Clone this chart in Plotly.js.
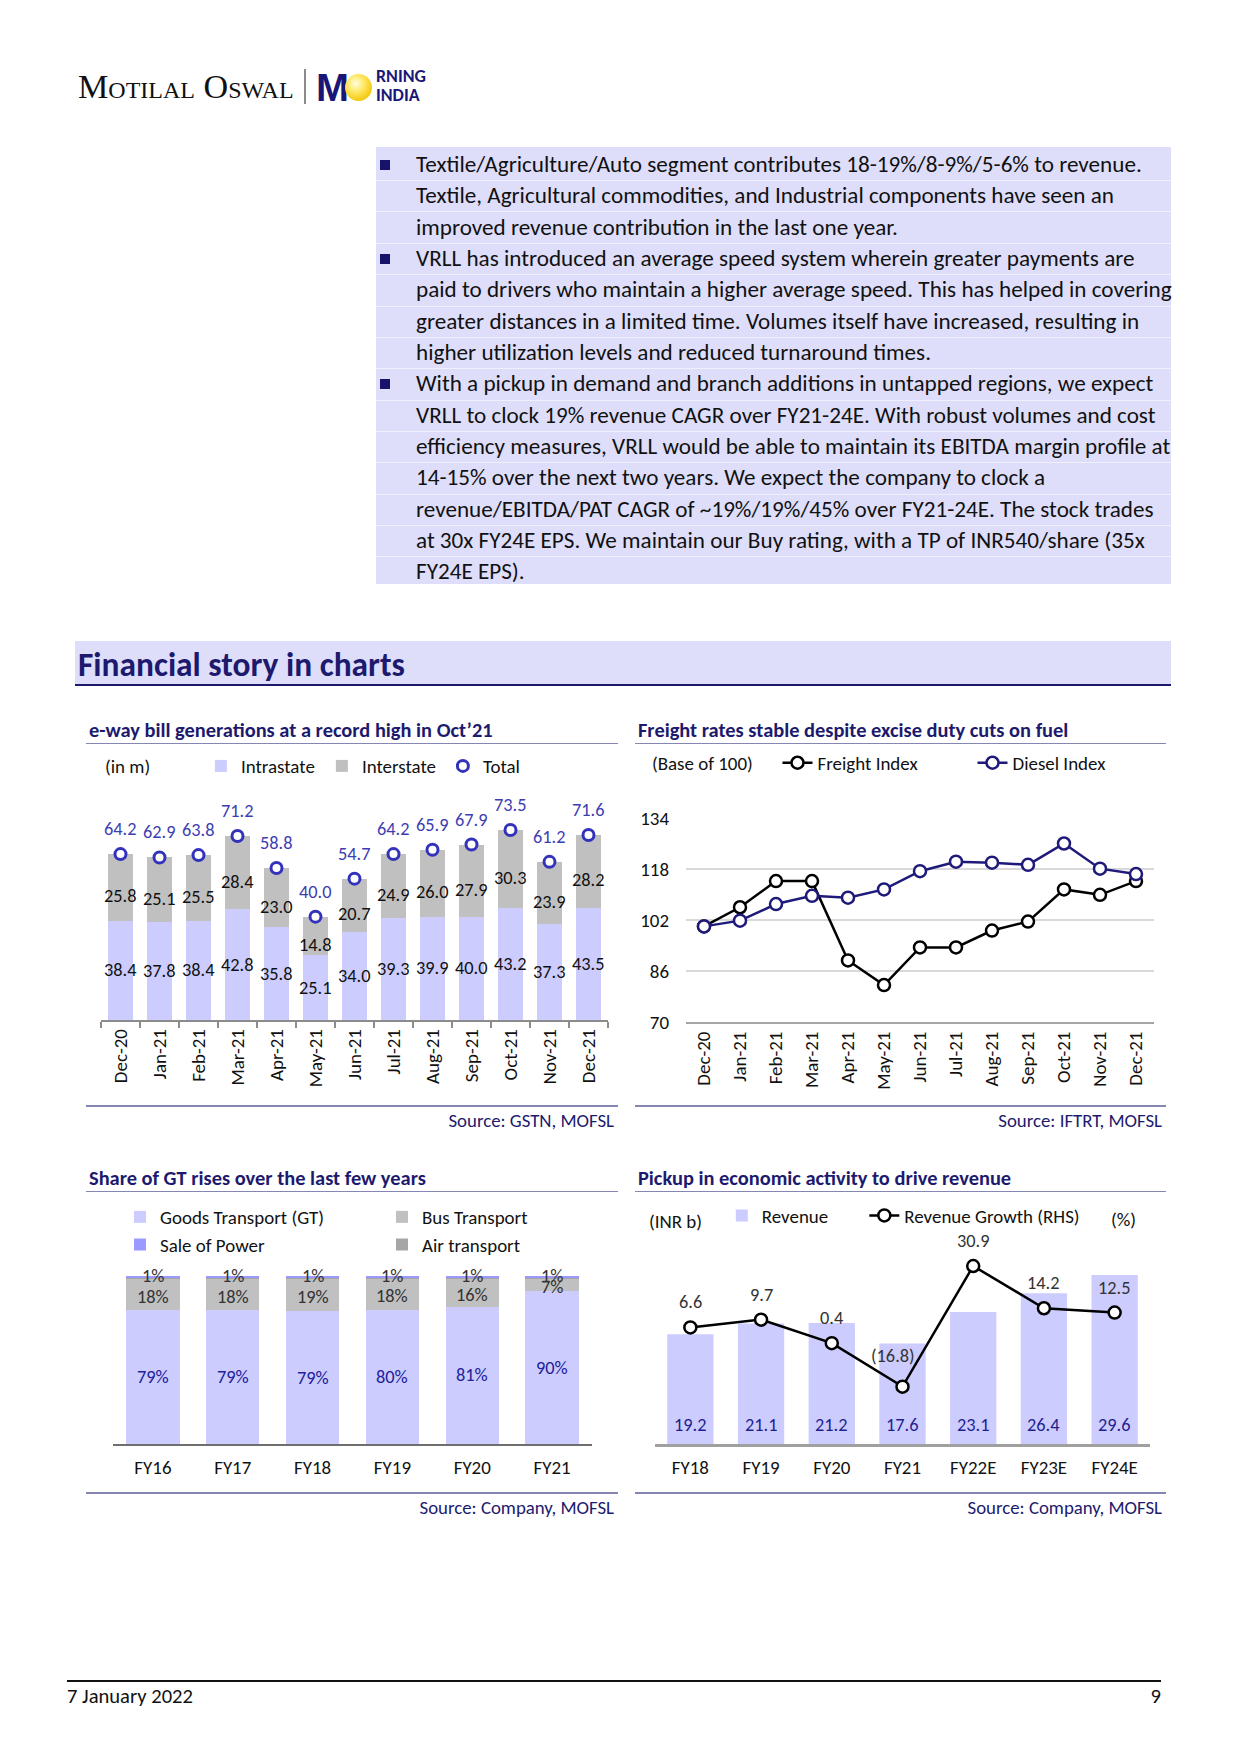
<!DOCTYPE html>
<html><head><meta charset="utf-8">
<script src="https://cdn.plot.ly/plotly-3.0.1.min.js"></script>
<style>
html,body{margin:0;padding:0;background:#fff;}
#page{position:relative;width:1241px;height:1755px;overflow:hidden;background:#fff;}
.t{position:absolute;white-space:nowrap;line-height:1;}
.plot{position:absolute;}
</style></head><body><div id="page"></div>
<script>
// ---------------- DATA ----------------
const ewayMonths = ['Dec-20','Jan-21','Feb-21','Mar-21','Apr-21','May-21','Jun-21','Jul-21','Aug-21','Sep-21','Oct-21','Nov-21','Dec-21'];
const ewayIntra = [38.4,37.8,38.4,42.8,35.8,25.1,34.0,39.3,39.9,40.0,43.2,37.3,43.5];
const ewayInter = [25.8,25.1,25.5,28.4,23.0,14.8,20.7,24.9,26.0,27.9,30.3,23.9,28.2];
const ewayTotal = [64.2,62.9,63.8,71.2,58.8,40.0,54.7,64.2,65.9,67.9,73.5,61.2,71.6];

const freightMonths = ['Dec-20','Jan-21','Feb-21','Mar-21','Apr-21','May-21','Jun-21','Jul-21','Aug-21','Sep-21','Oct-21','Nov-21','Dec-21'];
const freightIndex = [100.0,106.0,114.2,114.2,89.3,81.6,93.4,93.4,98.7,101.5,111.6,109.9,114.2];
const dieselIndex = [100.0,101.8,107.0,109.6,109.0,111.6,117.3,120.3,120.0,119.3,126.0,118.1,116.4];
const freightTicks = [70,86,102,118,134];

const shareYears = ['FY16','FY17','FY18','FY19','FY20','FY21'];
const shareGT = [79,79,79,80,81,90];
const shareBus = [18,18,19,18,16,7];
const shareAir = [1,1,1,1,1,1];
const sharePower = [1,1,1,1,1,1];

const revYears = ['FY18','FY19','FY20','FY21','FY22E','FY23E','FY24E'];
const revenue = [19.2,21.1,21.2,17.6,23.1,26.4,29.6];
const revGrowth = [6.6,9.7,0.4,-16.8,30.9,14.2,12.5];

const bodyLines = [
 [true,'Textile/Agriculture/Auto segment contributes 18-19%/8-9%/5-6% to revenue.'],
 [false,'Textile, Agricultural commodities, and Industrial components have seen an'],
 [false,'improved revenue contribution in the last one year.'],
 [true,'VRLL has introduced an average speed system wherein greater payments are'],
 [false,'paid to drivers who maintain a higher average speed. This has helped in covering'],
 [false,'greater distances in a limited time. Volumes itself have increased, resulting in'],
 [false,'higher utilization levels and reduced turnaround times.'],
 [true,'With a pickup in demand and branch additions in untapped regions, we expect'],
 [false,'VRLL to clock 19% revenue CAGR over FY21-24E. With robust volumes and cost'],
 [false,'efficiency measures, VRLL would be able to maintain its EBITDA margin profile at'],
 [false,'14-15% over the next two years. We expect the company to clock a'],
 [false,'revenue/EBITDA/PAT CAGR of ~19%/19%/45% over FY21-24E. The stock trades'],
 [false,'at 30x FY24E EPS. We maintain our Buy rating, with a TP of INR540/share (35x'],
 [false,'FY24E EPS).']
];

// ---------------- STYLE HELPERS ----------------
const FAM = "Carlito, Calibri, Lato, 'Open Sans', sans-serif";
const NAVY = '#1d1a6e';
const RULE = '#8686b2';
const LAV = '#ccccff';
const page = document.getElementById('page');
const cv = document.createElement('canvas').getContext('2d');
function fit(text, target, family, weight, variant){
  cv.font = (variant||'normal') + ' ' + (weight||'normal') + ' 100px ' + family;
  return 100*target/cv.measureText(text).width;
}
function txt(s, o){
  const d = document.createElement('div');
  d.className = 't';
  d.textContent = s;
  d.style.fontFamily = o.family || FAM;
  d.style.fontSize = o.size + 'px';
  d.style.fontWeight = o.weight || 'normal';
  if (o.variant) d.style.fontVariant = o.variant;
  d.style.color = o.color || '#000';
  d.style.top = (o.y - o.size*0.5) + 'px';
  if (o.right !== undefined){ d.style.right = (1241 - o.right) + 'px'; }
  else d.style.left = o.x + 'px';
  page.appendChild(d);
  return d;
}
function box(x,y,w,h,bg,extra){
  const d = document.createElement('div');
  d.style.position='absolute'; d.style.left=x+'px'; d.style.top=y+'px';
  d.style.width=w+'px'; d.style.height=h+'px'; d.style.background=bg;
  if (extra) Object.assign(d.style, extra);
  page.appendChild(d); return d;
}

// ---------------- LOGO ----------------
const SERIF = "'Liberation Serif', 'DejaVu Serif', serif";
txt('Motilal Oswal', {x:78, y:87, size:fit('Motilal Oswal',215,SERIF,'normal','small-caps'), family:SERIF, variant:'small-caps', color:'#111'});
box(304,69,2,35,'#8a8a8a');
const SANSB = "'Liberation Sans', Arial, sans-serif";
txt('M', {x:316, y:88, size:fit('M',33,SANSB,'bold'), family:SANSB, weight:'bold', color:'#1a1678'});
box(345,74,27,27,'radial-gradient(circle at 40% 35%, #fffde0 0%, #ffe866 35%, #f2c200 80%, #e0a800 100%)',{borderRadius:'50%'});
const rs = fit('RNING',50,FAM,'bold');
txt('RNING', {x:376, y:77, size:rs, weight:'bold', color:'#1a1678'});
txt('INDIA', {x:376, y:95.5, size:rs, weight:'bold', color:'#1a1678'});

// ---------------- BODY TEXT BOX ----------------
box(376,147,795,437,'#dedefa');
const bodySize = fit(bodyLines[0][1], 726, FAM);
bodyLines.forEach((l,i)=>{
  const cy = 164.5 + i*31.34;
  if (i>0) box(376, cy-15.7, 795, 1, 'rgba(255,255,255,0.55)');
  if (l[0]) box(380, cy-5, 10, 10, '#17136a');
  txt(l[1], {x:416, y:cy, size:bodySize, color:'#111'});
});

// ---------------- SECTION HEADER ----------------
box(75,641,1096,43,'#dedefa');
box(75,684,1096,2,NAVY);
txt('Financial story in charts', {x:78, y:665, size:fit('Financial story in charts',327,FAM,'bold'), weight:'bold', color:NAVY});

// ---------------- CHART FRAMES ----------------
const titleSize = fit('e-way bill generations at a record high in Oct’21', 404, FAM, 'bold');
const srcSize = fit('Source: GSTN, MOFSL', 165.6, FAM);
function frame(x0, x1, titleY, bottomY, title, source){
  txt(title, {x:x0+3, y:titleY, size:titleSize, weight:'bold', color:NAVY});
  box(x0, titleY+12.5, x1-x0, 1.5, RULE);
  box(x0, bottomY, x1-x0, 1.5, RULE);
  txt(source, {right:x1-4, y:bottomY+16.5, size:srcSize, color:NAVY});
}
frame(86,618,730,1105,'e-way bill generations at a record high in Oct’21','Source: GSTN, MOFSL');
frame(635,1166,730,1105,'Freight rates stable despite excise duty cuts on fuel','Source: IFTRT, MOFSL');
frame(86,618,1178,1492,'Share of GT rises over the last few years','Source: Company, MOFSL');
frame(635,1166,1178,1492,'Pickup in economic activity to drive revenue','Source: Company, MOFSL');

// ---------------- FOOTER ----------------
box(67,1680,1094,1.5,'#111');
const fs = fit('7 January 2022',126,FAM);
txt('7 January 2022', {x:67, y:1696, size:fs, color:'#111'});
txt('9', {right:1161, y:1696, size:fs, color:'#111'});

// ---------------- PLOTS ----------------
const FL = fit('Intrastate', 74, FAM);
const FN = fit('38.4', 32.5, FAM);
const cfg = {staticPlot:true, displayModeBar:false, responsive:false};
function mkDiv(x,y,w,h){
  const d=document.createElement('div'); d.className='plot';
  d.style.left=x+'px'; d.style.top=y+'px'; d.style.width=w+'px'; d.style.height=h+'px';
  page.appendChild(d); return d;
}

// unit texts
txt('(in m)', {x:105, y:767, size:FL, color:'#111'});
txt('(Base of 100)', {x:652, y:764, size:FL, color:'#111'});
txt('(INR b)', {x:649, y:1222, size:FL, color:'#111'});
txt('(%)', {x:1111, y:1220, size:FL, color:'#111'});

// Chart 1: e-way bills
(function(){
  const d = mkDiv(86,750,532,355);
  const ann = [];
  ewayMonths.forEach((m,i)=>{
    ann.push({x:m, y:ewayIntra[i]/2, text:ewayIntra[i].toFixed(1), showarrow:false, font:{size:FN,color:'#111'}});
    ann.push({x:m, y:ewayIntra[i]+ewayInter[i]/2, yshift:-9, text:ewayInter[i].toFixed(1), showarrow:false, font:{size:FN,color:'#111'}});
    ann.push({x:m, y:ewayTotal[i], yshift:25, text:ewayTotal[i].toFixed(1), showarrow:false, font:{size:FN,color:'#3d3db2'}});
  });
  Plotly.newPlot(d, [
    {type:'bar', name:'Intrastate', x:ewayMonths, y:ewayIntra, marker:{color:LAV}},
    {type:'bar', name:'Interstate', x:ewayMonths, y:ewayInter, marker:{color:'#c0c0c0'}},
    {type:'scatter', mode:'markers', name:'Total', x:ewayMonths, y:ewayTotal, cliponaxis:false,
     marker:{symbol:'circle', size:11, color:'#fff', line:{color:'#3232bb', width:3}}}
  ], {
    width:532, height:355, margin:{l:14.7, r:10.2, t:40, b:85.3, pad:0, autoexpand:false},
    paper_bgcolor:'rgba(0,0,0,0)', plot_bgcolor:'rgba(0,0,0,0)',
    font:{family:FAM, size:FL, color:'#111'},
    barmode:'stack', bargap:0.34,
    xaxis:{type:'category', range:[-0.5,12.5], tickangle:-90, showline:true, linecolor:'#8c8c8c', linewidth:1.5,
           ticks:'outside', tickson:'boundaries', ticklen:6, tickcolor:'#8c8c8c', tickwidth:1.5,
           tickfont:{size:FL, color:'#111'}, showgrid:false, zeroline:false, automargin:false, fixedrange:true},
    yaxis:{range:[0,89], visible:false, fixedrange:true},
    showlegend:true,
    legend:{orientation:'h', x:0.197, xanchor:'left', y:1.104, yanchor:'middle', entrywidth:76, entrywidthmode:'pixels',
            font:{size:FL, color:'#111'}, bgcolor:'rgba(0,0,0,0)', traceorder:'normal'},
    annotations:ann
  }, cfg);
})();

// Chart 2: freight vs diesel
(function(){
  const d = mkDiv(635,750,531,355);
  Plotly.newPlot(d, [
    {type:'scatter', mode:'lines+markers', name:'Freight Index', x:freightMonths, y:freightIndex, cliponaxis:false,
     line:{color:'#000', width:2.5}, marker:{size:12, color:'#fff', line:{color:'#000', width:2.5}}},
    {type:'scatter', mode:'lines+markers', name:'Diesel Index', x:freightMonths, y:dieselIndex, cliponaxis:false, legendwidth:150,
     line:{color:'#1f1a7a', width:2.5}, marker:{size:12, color:'#fff', line:{color:'#1f1a7a', width:2.5}}}
  ], {
    width:531, height:355, margin:{l:51, r:12, t:68, b:83, pad:0, autoexpand:false},
    paper_bgcolor:'rgba(0,0,0,0)', plot_bgcolor:'rgba(0,0,0,0)',
    font:{family:FAM, size:FL, color:'#111'},
    xaxis:{type:'category', range:[-0.5,12.5], tickangle:-90, showline:true, linecolor:'#a6a6a6', linewidth:2,
           ticks:'', ticklabelstandoff:0, tickfont:{size:FL, color:'#111'}, showgrid:false, zeroline:false, automargin:false},
    yaxis:{range:[70,134], tickvals:freightTicks, ticktext:freightTicks.map(String), showgrid:true, gridcolor:'#d9d9d9', gridwidth:1.5,
           zeroline:false, showline:false, ticks:'', ticklabelstandoff:16, tickfont:{size:FL, color:'#111'}, automargin:false},
    showlegend:true,
    legend:{orientation:'h', x:0.1955, xanchor:'left', y:1.27, yanchor:'middle', entrywidth:150, entrywidthmode:'pixels',
            font:{size:FL, color:'#111'}, bgcolor:'rgba(0,0,0,0)', traceorder:'normal'}
  }, cfg);
})();

// Chart 3: share of segments
(function(){
  const d = mkDiv(86,1195,532,300);
  const ann = [];
  shareYears.forEach((yr,i)=>{
    const tot = shareGT[i]+shareBus[i]+shareAir[i]+sharePower[i];
    const k = 100/tot;
    ann.push({x:yr, y:k*shareGT[i]/2, text:shareGT[i]+'%', showarrow:false, font:{size:FN,color:'#22229a'}});
    ann.push({x:yr, y:k*(shareGT[i]+shareBus[i]/2), yshift:-2, text:shareBus[i]+'%', showarrow:false, font:{size:FN,color:'#333'}});
    ann.push({x:yr, y:k*(shareGT[i]+shareBus[i]+shareAir[i]/2), yshift:3, text:shareAir[i]+'%', showarrow:false, font:{size:FN,color:'#333'}});
  });
  Plotly.newPlot(d, [
    {type:'bar', name:'Goods Transport (GT)', x:shareYears, y:shareGT, marker:{color:LAV}, legend:'legend'},
    {type:'bar', name:'Bus Transport', x:shareYears, y:shareBus, marker:{color:'#c0c0c0'}, legend:'legend2'},
    {type:'bar', name:'Air transport', x:shareYears, y:shareAir, marker:{color:'#a6a6a6'}, legend:'legend2'},
    {type:'bar', name:'Sale of Power', x:shareYears, y:sharePower, marker:{color:'#9999ff'}, legend:'legend'}
  ], {
    width:532, height:300, margin:{l:27, r:26, t:81, b:51, pad:0, autoexpand:false},
    paper_bgcolor:'rgba(0,0,0,0)', plot_bgcolor:'rgba(0,0,0,0)',
    font:{family:FAM, size:FL, color:'#111'},
    barmode:'stack', barnorm:'percent', bargap:0.33,
    xaxis:{type:'category', range:[-0.5,5.5], showline:true, linecolor:'#6e6e6e', linewidth:2, ticks:'', ticklabelstandoff:5,
           tickfont:{size:FL, color:'#111'}, showgrid:false, zeroline:false, automargin:false},
    yaxis:{range:[0,100], visible:false},
    showlegend:true,
    legend:{orientation:'v', x:0.0146, xanchor:'left', y:1.464, yanchor:'top', traceorder:'normal',
            font:{size:FL, color:'#111'}, bgcolor:'rgba(0,0,0,0)'},
    legend2:{orientation:'v', x:0.5616, xanchor:'left', y:1.464, yanchor:'top', traceorder:'normal',
            font:{size:FL, color:'#111'}, bgcolor:'rgba(0,0,0,0)'},
    annotations:ann
  }, cfg);
})();

// Chart 4: revenue and growth
(function(){
  const d = mkDiv(635,1195,531,300);
  const ann = [];
  revYears.forEach((yr,i)=>{
    ann.push({x:yr, y:0, yref:'y', yshift:19, text:revenue[i].toFixed(1), showarrow:false, font:{size:FN,color:'#1f1f8f'}});
    const g = revGrowth[i];
    const neg = g < 0;
    ann.push({x:yr, y:g, yref:'y2', yshift: neg ? 31 : 25, xshift: neg ? -10 : 0,
              text: neg ? '('+Math.abs(g).toFixed(1)+')' : g.toFixed(1), showarrow:false, font:{size:FN,color:'#333'}});
  });
  Plotly.newPlot(d, [
    {type:'bar', name:'Revenue', x:revYears, y:revenue, marker:{color:LAV}},
    {type:'scatter', mode:'lines+markers', name:'Revenue Growth (RHS)', x:revYears, y:revGrowth, yaxis:'y2', cliponaxis:false, legendwidth:200,
     line:{color:'#000', width:2.5}, marker:{size:12, color:'#fff', line:{color:'#000', width:2.5}}}
  ], {
    width:531, height:300, margin:{l:19.7, r:16.4, t:59, b:50.7, pad:0, autoexpand:false},
    paper_bgcolor:'rgba(0,0,0,0)', plot_bgcolor:'rgba(0,0,0,0)',
    font:{family:FAM, size:FL, color:'#111'},
    bargap:0.345,
    xaxis:{type:'category', range:[-0.5,6.5], showline:true, linecolor:'#a0a0a0', linewidth:2.5, ticks:'', ticklabelstandoff:5,
           tickfont:{size:FL, color:'#111'}, showgrid:false, zeroline:false, automargin:false},
    yaxis:{range:[0,33.27], visible:false},
    yaxis2:{range:[-39.48,35.65], overlaying:'y', side:'right', visible:false},
    showlegend:true,
    legend:{orientation:'h', x:0.135, xanchor:'left', y:1.2018, yanchor:'middle', entrywidth:97.5, entrywidthmode:'pixels',
            font:{size:FL, color:'#111'}, bgcolor:'rgba(0,0,0,0)', traceorder:'normal'},
    annotations:ann
  }, cfg);
})();
</script></body></html>
